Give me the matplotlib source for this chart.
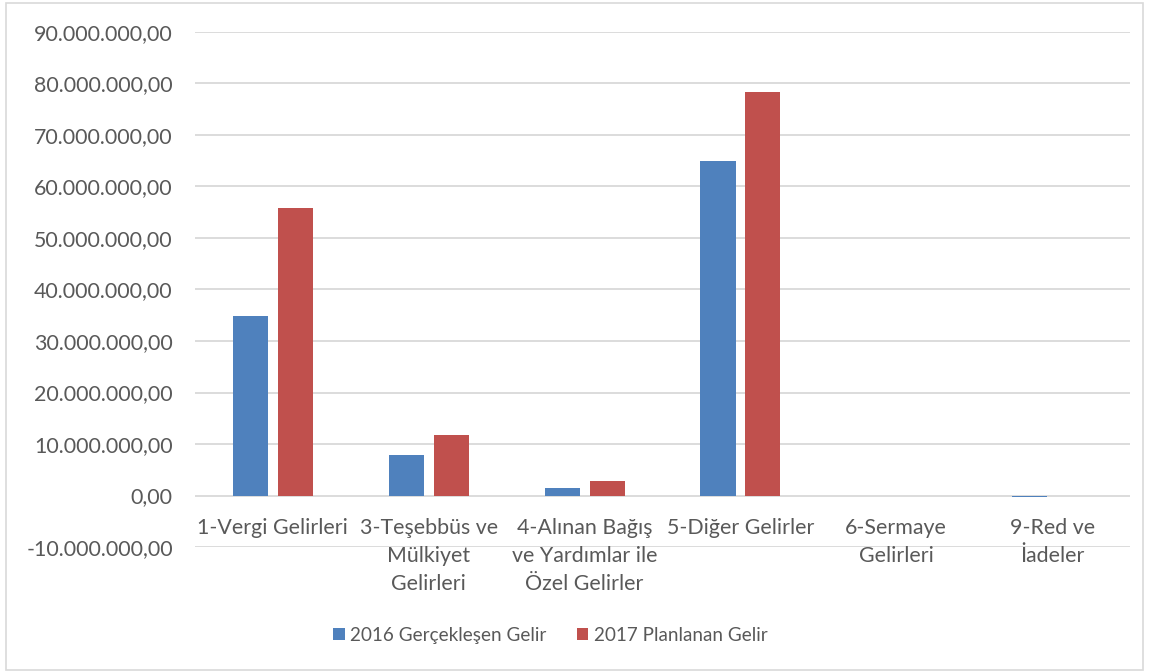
import numpy as np
import matplotlib
matplotlib.use('Agg')
import matplotlib.pyplot as plt
from matplotlib.patches import Rectangle
from matplotlib.ticker import FuncFormatter
import matplotlib.transforms as mtransforms

kategoriler = ['1-Vergi Gelirleri',
               '3-Teşebbüs ve\nMülkiyet\nGelirleri',
               '4-Alınan Bağış\nve Yardımlar ile\nÖzel Gelirler',
               '5-Diğer Gelirler',
               '6-Sermaye\nGelirleri',
               '9-Red ve\nİadeler']
gelir_2016 = [34900000, 7900000, 1400000, 64900000, 0, -300000]
gelir_2017 = [55900000, 11700000, 2800000, 78300000, 0, 0]
seri_adlari = ['2016 Gerçekleşen Gelir', '2017 Planlanan Gelir']

plt.rcParams['font.family'] = ['Lato', 'DejaVu Sans']
yazi_rengi = '#595959'

fig = plt.figure(figsize=(11.49, 6.72), dpi=100)
fig.patches.append(Rectangle((0.005, 0.003), 0.99, 0.992, transform=fig.transFigure,
                             fill=False, edgecolor='#d9d9d9', linewidth=1.2))

ax = fig.add_axes([0.1697, 0.186, 0.8138, 0.7664])

x = np.arange(len(kategoriler))
genislik = 0.225
ax.bar(x - 0.144, gelir_2016, genislik, color='#4F81BD', label=seri_adlari[0], zorder=3)
ax.bar(x + 0.144, gelir_2017, genislik, color='#C0504D', label=seri_adlari[1], zorder=3)

ax.set_xlim(-0.5, len(kategoriler) - 0.5)
ax.set_ylim(-10000000, 90000000)
ax.set_yticks(np.arange(-10000000, 90000001, 10000000))


def tr_format(v, pos):
    s = f'{v:,.2f}'
    return s.replace(',', 'X').replace('.', ',').replace('X', '.')


ax.yaxis.set_major_formatter(FuncFormatter(tr_format))
ax.tick_params(axis='y', length=0, labelsize=15.4, labelcolor=yazi_rengi, pad=16)
ax.set_xticks([])
ax.grid(axis='y', color='#d9d9d9', linewidth=1.3, zorder=0)
for s in ax.spines.values():
    s.set_visible(False)

trans = mtransforms.blended_transform_factory(ax.transData, ax.transData)
for i, k in enumerate(kategoriler):
    t = ax.text(i, 0, k, ha='center', va='top', fontsize=15.4, color=yazi_rengi,
                linespacing=1.5, transform=trans)
    t.set_transform(trans + mtransforms.ScaledTranslation(0, -22 / 100, fig.dpi_scale_trans))

fig.legend(loc='center', bbox_to_anchor=(0.479, 0.055), ncol=2, frameon=False,
           fontsize=13.6, labelcolor=yazi_rengi, handlelength=0.6, handleheight=0.6,
           handletextpad=0.3, columnspacing=1.6)

plt.savefig('out.png', dpi=100)
